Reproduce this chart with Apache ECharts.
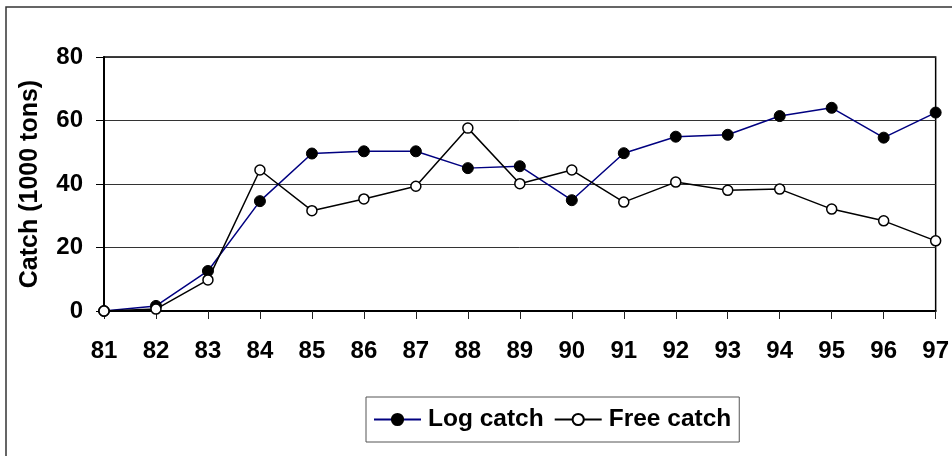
<!DOCTYPE html>
<html>
<head>
<meta charset="utf-8">
<script src="https://cdn.jsdelivr.net/npm/echarts@6/dist/echarts.min.js"></script>
<style>
  html, body { margin: 0; padding: 0; background: #fff; }
  #chart { width: 952px; height: 456px; }
</style>
</head>
<body>
<div id="chart"></div>
<script>
// Annual catch, in thousand tons
const years = ['81','82','83','84','85','86','87','88','89','90','91','92','93','94','95','96','97'];
const logCatch  = [0, 1.6, 12.6, 34.6, 49.6, 50.3, 50.3, 45.0, 45.6, 34.9, 49.7, 54.9, 55.5, 61.4, 64.0, 54.6, 62.5];
const freeCatch = [0, 0.6, 9.8, 44.4, 31.6, 35.3, 39.3, 57.6, 40.1, 44.4, 34.3, 40.6, 38.0, 38.4, 32.1, 28.4, 22.1];
const yTicks = [0, 20, 40, 60, 80];

const FONT = '"Liberation Sans", Arial, sans-serif';

const chart = echarts.init(document.getElementById('chart'), null, { renderer: 'canvas' });

chart.setOption({
  animation: false,
  backgroundColor: '#fff',
  graphic: [{
    type: 'rect',
    shape: { x: 6, y: 7, width: 1000, height: 500 },
    style: { fill: 'none', stroke: '#333', lineWidth: 1.5 },
    silent: true,
    z: -1
  }],
  grid: {
    left: 104, top: 57, right: 9, bottom: 145,
    show: true, borderColor: '#000', borderWidth: 1.5
  },
  legend: {
    left: 366, top: 397,
    data: ['Log catch', 'Free catch'],
    itemWidth: 47, itemHeight: 14, itemGap: 10,
    padding: [10, 8, 10, 7],
    borderColor: '#555', borderWidth: 1,
    textStyle: { fontFamily: FONT, fontWeight: 'bold', fontSize: 24.5, color: '#000', padding: [0, 0, 0, 2] }
  },
  xAxis: {
    type: 'category',
    data: years,
    boundaryGap: false,
    axisLine: { lineStyle: { color: '#000', width: 2 } },
    axisTick: { show: true, inside: false, length: 8, lineStyle: { color: '#222', width: 1 }, alignWithLabel: true },
    axisLabel: { interval: 0, margin: 28, fontFamily: FONT, fontWeight: 'bold', fontSize: 24, color: '#000' },
    splitLine: { show: false }
  },
  yAxis: {
    type: 'value',
    min: yTicks[0], max: yTicks[yTicks.length - 1], interval: 20,
    name: 'Catch (1000 tons)',
    nameLocation: 'middle',
    nameGap: 61,
    nameTextStyle: { fontFamily: FONT, fontWeight: 'bold', fontSize: 25, color: '#000' },
    axisLine: { show: true, lineStyle: { color: '#000', width: 2 } },
    axisTick: { show: true, length: 8, lineStyle: { color: '#000', width: 1 } },
    axisLabel: { margin: 21, fontFamily: FONT, fontWeight: 'bold', fontSize: 24, color: '#000' },
    splitLine: { show: true, lineStyle: { color: '#333', width: 1 } }
  },
  series: [
    {
      name: 'Log catch',
      type: 'line',
      data: logCatch,
      symbol: 'circle',
      symbolSize: 11,
      lineStyle: { color: '#000080', width: 1.5 },
      itemStyle: { color: '#000', borderColor: '#000', borderWidth: 1 }
    },
    {
      name: 'Free catch',
      type: 'line',
      data: freeCatch,
      symbol: 'circle',
      symbolSize: 10,
      lineStyle: { color: '#000', width: 1.5 },
      itemStyle: { color: '#fff', borderColor: '#000', borderWidth: 1.5 }
    }
  ]
});
</script>
</body>
</html>
